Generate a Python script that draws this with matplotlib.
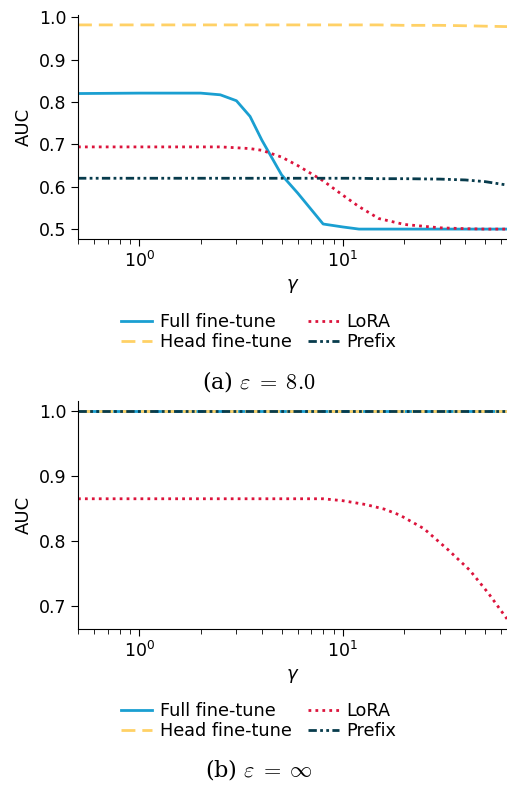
import numpy as np
import matplotlib.pyplot as plt

# gamma grid
gamma_a = [0.5, 1.0, 1.5, 2.0, 2.5, 3.0, 3.5, 4.0, 5.0, 6.0, 8.0, 10.0, 12.0, 15.0, 20.0, 30.0, 40.0, 50.0, 64.0]
full_a = [0.820, 0.821, 0.821, 0.821, 0.817, 0.803, 0.766, 0.71, 0.628, 0.585, 0.512, 0.505, 0.500, 0.500, 0.500, 0.500, 0.500, 0.500, 0.500]
head_a = [0.982, 0.982, 0.982, 0.982, 0.982, 0.982, 0.982, 0.982, 0.982, 0.982, 0.982, 0.982, 0.982, 0.982, 0.981, 0.981, 0.980, 0.979, 0.978]
lora_a = [0.694, 0.694, 0.694, 0.694, 0.694, 0.692, 0.690, 0.686, 0.670, 0.650, 0.614, 0.580, 0.553, 0.525, 0.511, 0.503, 0.501, 0.500, 0.500]
prefix_a = [0.620, 0.620, 0.620, 0.620, 0.620, 0.620, 0.620, 0.620, 0.620, 0.620, 0.620, 0.620, 0.620, 0.619, 0.619, 0.618, 0.616, 0.612, 0.604]

gamma_b = [0.5, 1.0, 2.0, 4.0, 6.0, 8.0, 10.0, 13.0, 16.0, 19.0, 25.0, 33.0, 42.0, 52.0, 64.0]
full_b = [1.0] * len(gamma_b)
head_b = [1.0] * len(gamma_b)
lora_b = [0.865, 0.865, 0.865, 0.865, 0.865, 0.865, 0.862, 0.856, 0.849, 0.840, 0.819, 0.786, 0.755, 0.719, 0.680]
prefix_b = [1.0] * len(gamma_b)

labels = ['Full fine-tune', 'Head fine-tune', 'LoRA', 'Prefix']
colors = ['#1a9fd1', '#ffd166', '#dc143c', '#073b4c']
styles = ['-', (0, (5, 2.5)), (0, (1, 1.5)), (0, (3, 1.2, 1, 1.2, 1, 1.2))]
captions = [r'(a) $\varepsilon\;=\;8.0$', r'(b) $\varepsilon\;=\;\infty$']

fig = plt.figure(figsize=(5.07, 7.89), dpi=100)
W, H = 507, 789

def make_panel(top, bottom, series, gam, caption, leg_y, cap_y):
    ax = fig.add_axes([78 / W, 1 - bottom / H, 1 - 78 / W, (bottom - top) / H])
    for ys, lab, c, ls in zip(series, labels, colors, styles):
        ax.plot(gam, ys, color=c, linestyle=ls, lw=2, label=lab)
    ax.set_xscale('log')
    ax.set_xlim(0.5, 64)
    ax.spines['top'].set_visible(False)
    ax.spines['right'].set_visible(False)
    ax.tick_params(labelsize=12.5)
    ax.tick_params(which='major', length=5)
    ax.tick_params(which='minor', length=3.5)
    ax.set_ylabel('AUC', fontsize=13)
    ax.set_xlabel(r'$\gamma$', fontsize=13)
    # legend order in two columns: Full, Head | LoRA, Prefix
    fig.legend(*ax.get_legend_handles_labels(), loc='center', ncol=2, frameon=False,
               fontsize=12.7, bbox_to_anchor=(259 / W, 1 - leg_y / H), handlelength=1.75,
               handletextpad=0.45, columnspacing=0.9, labelspacing=0.15, borderpad=0)
    fig.text(259 / W, 1 - cap_y / H, caption, ha='center', va='center', fontsize=16,
             family='DejaVu Serif', math_fontfamily='cm')
    return ax

ax1 = make_panel(14.7, 239.3, [full_a, head_a, lora_a, prefix_a], gamma_a, captions[0], 332, 381)
ax1.set_yticks([0.5, 0.6, 0.7, 0.8, 0.9, 1.0])
ax2 = make_panel(400.7, 629.3, [full_b, head_b, lora_b, prefix_b], gamma_b, captions[1], 721, 769)
ax2.set_yticks([0.7, 0.8, 0.9, 1.0])

fig.savefig('out.png', dpi=100)
